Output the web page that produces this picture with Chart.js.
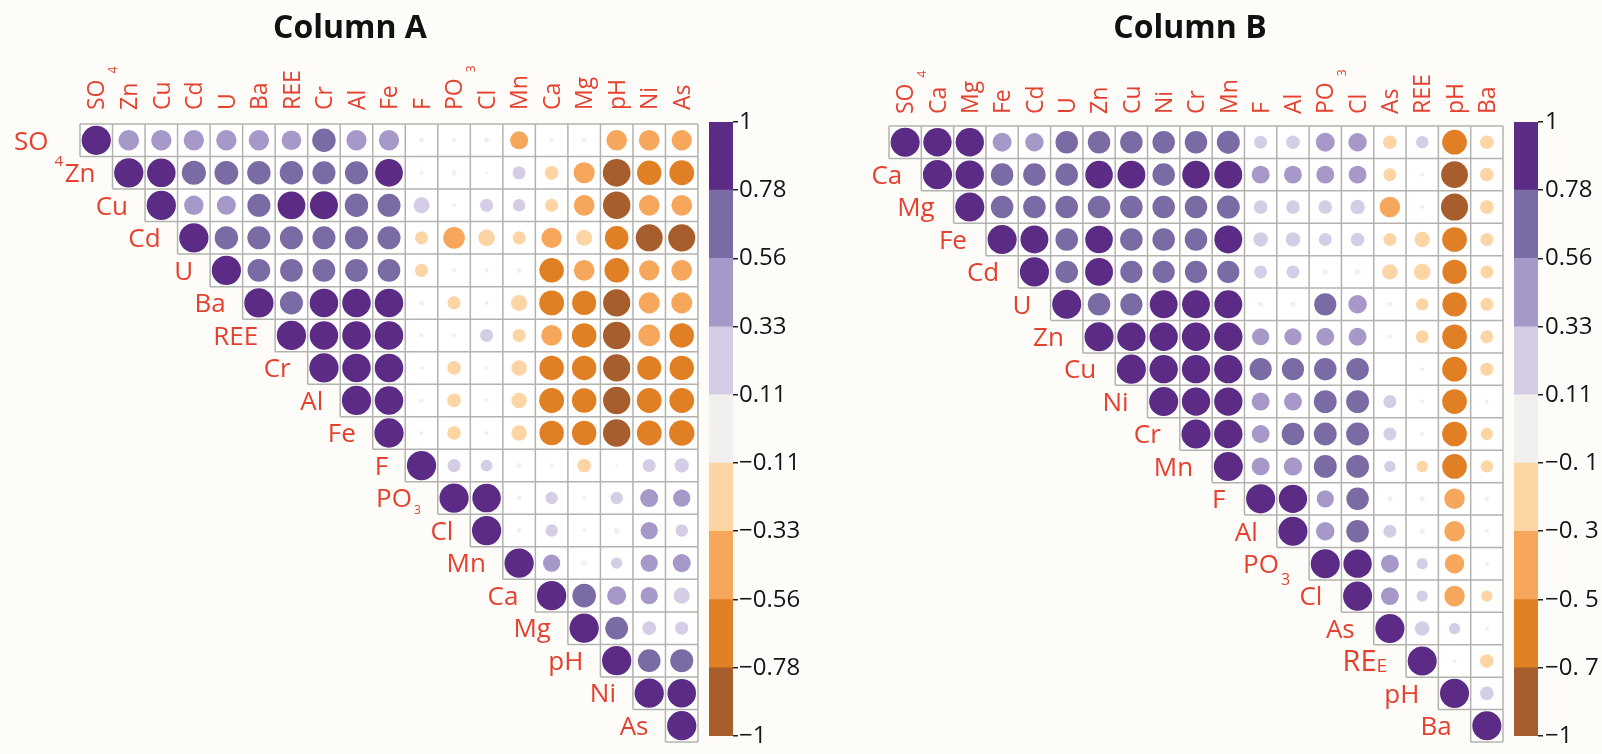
<!DOCTYPE html>
<html lang="en">
<head>
<meta charset="UTF-8">
<title>Correlation matrices - Column A / Column B</title>
<script src="https://cdn.jsdelivr.net/npm/chart.js"></script>
<style>
  body { margin: 0; background: #fdfcf9; }
  .box { position: absolute; top: 0; height: 754px; }
</style>
</head>
<body>
<div class="box" style="left:0;width:700px"><canvas id="matA"></canvas></div>
<div class="box" style="left:700px;width:102px"><canvas id="barA"></canvas></div>
<div class="box" style="left:870px;width:640px"><canvas id="matB"></canvas></div>
<div class="box" style="left:1505px;width:97px"><canvas id="barB"></canvas></div>

<script>
// variables, in the order they appear on each matrix
const varsA = ['SO4', 'Zn', 'Cu', 'Cd', 'U', 'Ba', 'REE', 'Cr', 'Al', 'Fe', 'F', 'PO3', 'Cl', 'Mn', 'Ca', 'Mg', 'pH', 'Ni', 'As'];
const varsB = ['SO4', 'Ca', 'Mg', 'Fe', 'Cd', 'U', 'Zn', 'Cu', 'Ni', 'Cr', 'Mn', 'F', 'Al', 'PO3', 'Cl', 'As', 'REE', 'pH', 'Ba'];

// upper triangle, each row starts on the diagonal
const corrA = [
  [1, 0.5, 0.48, 0.48, 0.48, 0.48, 0.45, 0.64, 0.48, 0.48, 0.03, 0.02, 0.03, -0.38, 0.02, 0.03, -0.5, -0.5, -0.48],
  [1, 0.95, 0.68, 0.66, 0.64, 0.64, 0.62, 0.62, 0.9, 0.02, 0.03, 0.01, 0.2, -0.22, -0.52, -0.9, -0.7, -0.72],
  [1, 0.44, 0.42, 0.62, 0.9, 0.92, 0.64, 0.62, 0.3, 0.02, 0.2, 0.18, -0.2, -0.5, -0.88, -0.5, -0.5],
  [1, 0.64, 0.62, 0.62, 0.62, 0.62, 0.62, -0.2, -0.55, -0.32, -0.2, -0.48, -0.3, -0.65, -0.85, -0.86],
  [1, 0.6, 0.6, 0.6, 0.6, 0.6, -0.2, 0.02, 0.02, 0.03, -0.7, -0.5, -0.7, -0.48, -0.5],
  [1, 0.62, 0.95, 0.95, 0.95, 0.03, -0.2, 0.02, -0.3, -0.72, -0.68, -0.86, -0.52, -0.52],
  [1, 0.95, 0.95, 0.95, 0.02, 0.02, 0.2, -0.2, -0.5, -0.7, -0.88, -0.55, -0.7],
  [1, 0.95, 0.95, 0.02, -0.22, 0.02, -0.28, -0.7, -0.7, -0.86, -0.68, -0.7],
  [1, 0.95, 0.02, -0.22, 0.02, -0.28, -0.72, -0.7, -0.87, -0.72, -0.72],
  [1, 0.02, -0.22, 0.02, -0.28, -0.7, -0.7, -0.88, -0.72, -0.75],
  [1, 0.2, 0.16, 0.03, 0.02, -0.22, 0.01, 0.2, 0.24],
  [1, 0.95, 0.03, 0.18, 0.02, 0.18, 0.38, 0.35],
  [1, 0.03, 0.18, 0.02, 0.04, 0.35, 0.18],
  [1, 0.35, 0.03, 0.15, 0.35, 0.38],
  [1, 0.65, 0.42, 0.35, 0.3],
  [1, 0.6, 0.22, 0.2],
  [1, 0.6, 0.62],
  [1, 0.95],
  [1]
];

const corrB = [
  [1, 0.95, 0.95, 0.42, 0.4, 0.6, 0.6, 0.6, 0.6, 0.6, 0.62, 0.2, 0.22, 0.42, 0.4, -0.22, 0.18, -0.72, -0.22],
  [1, 0.95, 0.6, 0.6, 0.6, 0.9, 0.92, 0.6, 0.9, 0.92, 0.38, 0.38, 0.38, 0.38, -0.2, 0.02, -0.85, -0.22],
  [1, 0.6, 0.6, 0.6, 0.6, 0.6, 0.6, 0.6, 0.62, 0.22, 0.22, 0.22, 0.25, -0.5, 0.02, -0.87, -0.22],
  [1, 0.92, 0.6, 0.9, 0.6, 0.6, 0.6, 0.92, 0.25, 0.25, 0.2, 0.22, -0.2, -0.28, -0.72, -0.2],
  [1, 0.6, 0.92, 0.58, 0.58, 0.58, 0.58, 0.2, 0.2, 0.04, 0.04, -0.28, -0.32, -0.7, -0.2],
  [1, 0.6, 0.58, 0.92, 0.92, 0.92, 0.03, 0.03, 0.58, 0.4, 0.03, -0.18, -0.7, -0.2],
  [1, 0.95, 0.95, 0.95, 0.95, 0.35, 0.35, 0.38, 0.38, 0.02, -0.2, -0.72, -0.2],
  [1, 0.95, 0.95, 0.95, 0.58, 0.58, 0.6, 0.6, 0, 0.02, -0.72, -0.2],
  [1, 0.95, 0.95, 0.38, 0.38, 0.62, 0.62, 0.2, 0.02, -0.72, 0.02],
  [1, 0.95, 0.38, 0.6, 0.62, 0.62, 0.2, 0.02, -0.72, -0.18],
  [1, 0.38, 0.4, 0.62, 0.62, 0.15, -0.15, -0.72, -0.18],
  [1, 0.95, 0.35, 0.6, 0.03, 0.03, -0.5, 0.03],
  [1, 0.4, 0.6, 0.2, 0.03, -0.5, 0.02],
  [1, 0.95, 0.38, 0.15, -0.45, 0.02],
  [1, 0.38, 0.15, -0.5, -0.15],
  [1, 0.25, 0.15, 0.02],
  [1, 0.02, -0.22],
  [1, 0.22],
  [1]
];

// colour scale (bottom to top)
const binEdges = [-1, -0.778, -0.556, -0.333, -0.111, 0.111, 0.333, 0.556, 0.778, 1];
const binColors = ['#a85e2c', '#e17f25', '#f6a75c', '#fdd5a4', '#f2f0ef', '#d4cde5', '#a698c8', '#7b6ba5', '#5b2b85'];
// tick labels, top to bottom
const tickLabelsA = ['1', '0.78', '0.56', '0.33', '0.11', '\u22120.11', '\u22120.33', '\u22120.56', '\u22120.78', '\u22121'];
const tickLabelsB = ['1', '0.78', '0.56', '0.33', '0.11', '\u22120. 1', '\u22120. 3', '\u22120. 5', '\u22120. 7', '\u22121'];

const labelRed = '#e4412f';
const FONT = '"Open Sans", "Noto Sans", sans-serif';

function colorFor(v) {
  for (let k = 0; k < binColors.length; k++) {
    if (v <= binEdges[k + 1]) return binColors[k];
  }
  return binColors[binColors.length - 1];
}

function splitName(name) {
  const m = name.match(/^(.*?)(\d)$/);
  return m ? [m[1], m[2]] : [name, ''];
}

// draws main text + optional subscript, anchor is the text start (left) or end (right)
function drawLabel(ctx, main, sub, x, y, align, st) {
  ctx.font = st.size + 'px ' + FONT;
  const wMain = ctx.measureText(main).width;
  let wSub = 0;
  if (sub) {
    ctx.font = st.subSize + 'px ' + FONT;
    wSub = st.subGap + ctx.measureText(sub).width;
  }
  const x0 = align === 'right' ? x - wMain - wSub : x;
  const base = y + st.size * 0.357;
  ctx.textAlign = 'left';
  ctx.textBaseline = 'alphabetic';
  ctx.font = st.size + 'px ' + FONT;
  ctx.fillText(main, x0, base);
  if (sub) {
    ctx.font = st.subSize + 'px ' + FONT;
    ctx.fillText(sub, x0 + wMain + st.subGap, base + st.subDy);
  }
}

function makeGridPlugin(cfg) {
  return {
    id: 'corrGrid',
    beforeDatasetsDraw(chart) {
      const {ctx} = chart;
      const x = chart.scales.x, y = chart.scales.y;
      const n = cfg.names.length;
      ctx.save();
      ctx.fillStyle = '#ffffff';
      for (let i = 0; i < n; i++) {
        const x0 = x.getPixelForValue(i - 0.5), y0 = y.getPixelForValue(i - 0.5);
        ctx.fillRect(x0, y0, x.getPixelForValue(n - 0.5) - x0, y.getPixelForValue(i + 0.5) - y0);
      }
      ctx.strokeStyle = '#b3b2ae';
      ctx.lineWidth = 1.5;
      ctx.beginPath();
      for (let r = 0; r <= n; r++) {
        const yy = y.getPixelForValue(r - 0.5);
        const c0 = Math.max(r - 1, 0);
        ctx.moveTo(x.getPixelForValue(c0 - 0.5), yy);
        ctx.lineTo(x.getPixelForValue(n - 0.5), yy);
      }
      for (let c = 0; c <= n; c++) {
        const xx = x.getPixelForValue(c - 0.5);
        const rEnd = Math.min(c, n - 1);
        ctx.moveTo(xx, y.getPixelForValue(-0.5));
        ctx.lineTo(xx, y.getPixelForValue(rEnd + 0.5));
      }
      ctx.stroke();
      ctx.restore();
    },
    afterDraw(chart) {
      const {ctx} = chart;
      const x = chart.scales.x, y = chart.scales.y;
      const n = cfg.names.length;
      ctx.save();
      // title
      ctx.fillStyle = '#111111';
      ctx.font = 'bold 32px ' + FONT;
      ctx.textAlign = 'center';
      ctx.textBaseline = 'alphabetic';
      ctx.fillText(cfg.title, cfg.titleX, cfg.titleY);

      ctx.fillStyle = labelRed;
      // column labels (rotated)
      const top = y.getPixelForValue(-0.5);
      for (let j = 0; j < n; j++) {
        const [main, sub] = splitName(cfg.names[j]);
        ctx.save();
        ctx.translate(x.getPixelForValue(j), top - cfg.colGap);
        ctx.rotate(-Math.PI / 2);
        drawLabel(ctx, main, sub, 0, 0, 'left', cfg.colStyle);
        ctx.restore();
      }
      // row labels, left of the diagonal cell
      for (let i = 0; i < n; i++) {
        let [main, sub] = splitName(cfg.names[i]);
        let st = cfg.rowStyle;
        const over = cfg.rowOverride && cfg.rowOverride[cfg.names[i]];
        if (over) { main = over.main; sub = over.sub; st = over.style; }
        drawLabel(ctx, main, sub, x.getPixelForValue(i - 0.5) - cfg.rowGap, y.getPixelForValue(i), 'right', st);
      }
      ctx.restore();
    }
  };
}

function matrixChart(id, names, corr, cfg) {
  const n = names.length;
  const points = [];
  for (let i = 0; i < n; i++) {
    for (let j = i; j < n; j++) points.push({x: j, y: i, v: corr[i][j - i]});
  }
  return new Chart(document.getElementById(id), {
    type: 'scatter',
    data: {
      datasets: [{
        data: points,
        pointRadius: (c) => {
          const sx = c.chart.scales.x;
          const cell = Math.abs(sx.getPixelForValue(1) - sx.getPixelForValue(0));
          return Math.sqrt(Math.abs(c.raw.v)) * cell * 0.45;
        },
        pointBackgroundColor: (c) => colorFor(c.raw.v),
        pointBorderWidth: 0
      }]
    },
    options: {
      responsive: true,
      maintainAspectRatio: false,
      animation: false,
      events: [],
      layout: {padding: cfg.padding},
      scales: {
        x: {type: 'linear', min: -0.5, max: n - 0.5, display: false},
        y: {type: 'linear', min: -0.5, max: n - 0.5, reverse: true, display: false}
      },
      plugins: {legend: {display: false}, tooltip: {enabled: false}}
    },
    plugins: [makeGridPlugin(Object.assign({names: names}, cfg))]
  });
}

function colorBar(id, tickLabels, cfg) {
  const datasets = binColors.map((c, k) => ({
    data: [[binEdges[k], binEdges[k + 1]]],
    backgroundColor: c,
    borderWidth: 0,
    grouped: false,
    barPercentage: 1,
    categoryPercentage: 1
  }));
  datasets.push({
    data: [[binEdges[0], binEdges[binEdges.length - 1]]],
    backgroundColor: 'rgba(0,0,0,0)',
    borderColor: '#222222',
    borderWidth: 2,
    borderSkipped: false,
    grouped: false,
    barPercentage: 1,
    categoryPercentage: 1
  });
  const last = tickLabels.length - 1;
  return new Chart(document.getElementById(id), {
    type: 'bar',
    data: {labels: ['r'], datasets: datasets},
    options: {
      responsive: true,
      maintainAspectRatio: false,
      animation: false,
      events: [],
      layout: {padding: cfg.padding},
      scales: {
        x: {display: false},
        y: {
          min: -1, max: 1,
          position: 'right',
          afterBuildTicks: (axis) => { axis.ticks = binEdges.map(v => ({value: v})); },
          afterFit: (axis) => { axis.width = cfg.axisWidth; },
          ticks: {
            autoSkip: false,
            padding: cfg.tickPad,
            color: '#151515',
            font: {family: FONT, size: 24},
            callback: (v, i) => tickLabels[last - i]
          },
          grid: {display: true, drawOnChartArea: false, drawTicks: true, tickLength: 5, color: '#222222', lineWidth: 1.5},
          border: {display: false}
        }
      },
      plugins: {legend: {display: false}, tooltip: {enabled: false}}
    }
  });
}

matrixChart('matA', varsA, corrA, {
  padding: {left: 80, top: 124, right: 2, bottom: 12},
  title: 'Column A', titleX: 350, titleY: 38,
  colGap: 14, rowGap: 17,
  colStyle: {size: 23, subSize: 12, subGap: 6, subDy: 13},
  rowStyle: {size: 26, subSize: 15, subGap: 6, subDy: 16},
  rowOverride: {PO3: {main: 'PO', sub: '3', style: {size: 26, subSize: 12, subGap: 2, subDy: 7}}}
});

matrixChart('matB', varsB, corrB, {
  padding: {left: 19, top: 126, right: 7, bottom: 12},
  title: 'Column B', titleX: 320, titleY: 38,
  colGap: 12, rowGap: 19,
  colStyle: {size: 23, subSize: 12, subGap: 6, subDy: 13},
  rowStyle: {size: 26, subSize: 16, subGap: 2, subDy: 12},
  rowOverride: {REE: {main: 'RE', sub: 'E', style: {size: 29, subSize: 19, subGap: 0, subDy: 1}}}
});

colorBar('barA', tickLabelsA, {padding: {left: 9, top: 122, right: 0, bottom: 18}, axisWidth: 69, tickPad: 1});
colorBar('barB', tickLabelsB, {padding: {left: 9, top: 122, right: 0, bottom: 18}, axisWidth: 64, tickPad: 2});
</script>
</body>
</html>
